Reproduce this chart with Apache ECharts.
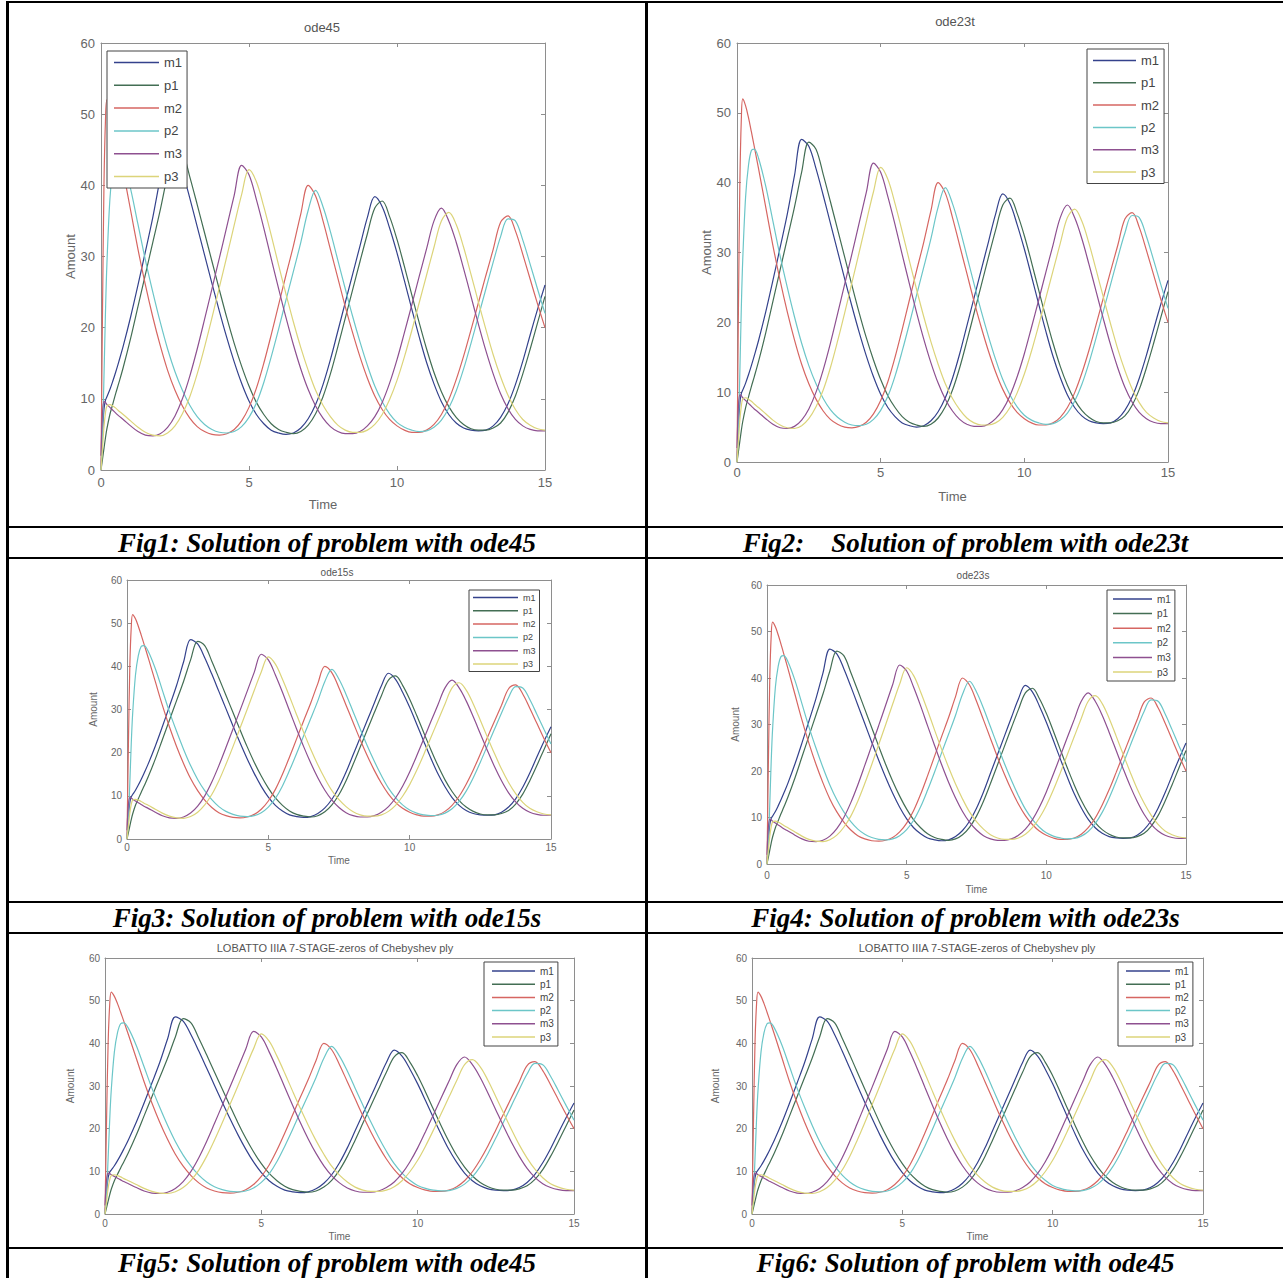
<!DOCTYPE html>
<html>
<head>
<meta charset="utf-8">
<script src="https://cdn.jsdelivr.net/npm/echarts@6/dist/echarts.min.js"></script>
<style>
  html, body { margin: 0; padding: 0; background: #fff; }
  #wrap { position: relative; width: 1283px; height: 1278px; overflow: hidden; }
  #chart { position: absolute; left: 0; top: 0; width: 1283px; height: 1278px; }
  .ln { position: absolute; background: #000; z-index: 5; }
  .cap { position: absolute; z-index: 6; font-family: "Liberation Serif", "Times New Roman", serif;
         font-weight: bold; font-style: italic; font-size: 27px; color: #000; white-space: pre;
         text-align: center; line-height: 30px; height: 30px; }
  .cap.last { line-height: 27px; height: 27px; }
</style>
</head>
<body>
<div id="wrap">
  <div id="chart"></div>
  <div class="ln" style="left:7px;top:1px;width:1276px;height:2px;"></div>
  <div class="ln" style="left:6px;top:1px;width:3px;height:1277px;"></div>
  <div class="ln" style="left:645px;top:1px;width:3px;height:1277px;"></div>
  <div class="ln" style="left:7px;top:526px;width:1276px;height:2px;"></div>
  <div class="ln" style="left:7px;top:557px;width:1276px;height:2px;"></div>
  <div class="ln" style="left:7px;top:901px;width:1276px;height:2px;"></div>
  <div class="ln" style="left:7px;top:932px;width:1276px;height:2px;"></div>
  <div class="ln" style="left:7px;top:1247px;width:1276px;height:2px;"></div>
  <div class="cap" style="left:9px;width:636px;top:528px;">Fig1: Solution of problem with ode45</div>
  <div class="cap" style="left:648px;width:635px;top:528px;">Fig2:    Solution of problem with ode23t</div>
  <div class="cap" style="left:9px;width:636px;top:903px;">Fig3: Solution of problem with ode15s</div>
  <div class="cap" style="left:648px;width:635px;top:903px;">Fig4: Solution of problem with ode23s</div>
  <div class="cap last" style="left:9px;width:636px;top:1250px;">Fig5: Solution of problem with ode45</div>
  <div class="cap last" style="left:648px;width:635px;top:1250px;">Fig6: Solution of problem with ode45</div>
</div>
<script>
// ---- data ----
const timePoints = [0,0.05,0.1,0.15,0.2,0.3,0.4,0.5,0.6,0.75,
  1,1.25,1.5,1.75, 2,2.25,2.5,2.75, 3,3.25,3.5,3.75, 4,4.25,4.5,4.75, 5,5.25,5.5,5.75,
  6,6.25,6.5,6.75, 7,7.25,7.5,7.75, 8,8.25,8.5,8.75, 9,9.25,9.5,9.75, 10,10.25,10.5,10.75,
  11,11.25,11.5,11.75, 12,12.25,12.5,12.75, 13,13.25,13.5,13.75, 14,14.25,14.5,14.75, 15];

const m1 = [0,5,8.5,9.8,10.3,11.3,12.5,13.8,15.2,17.4,
  21.5,26,30.7,35.5, 41,46.2,45.2,42, 38.2,34.2,30.2,26.2, 22.3,18.6,15.2,12.2,
  9.7,7.8,6.5,5.6, 5.2,5.0,5.2,5.9, 7.2,9.2,12,15.5, 19.5,23.5,27.5,31.5,
  35.5,38.4,37,34, 30.5,26.6,22.6,18.7, 15.1,12.1,9.6,7.8, 6.6,5.9,5.6,5.5,
  5.6,6.2,7.4,9.3, 12,15.3,19,22.6, 26];

const p1 = [0,1.5,3,4.5,5.8,7.8,9.3,10.8,12.2,14.4,
  18.5,23,27.5,32, 36.5,41.5,45.8,44.8, 41.2,37.3,33.3,29.3, 25.3,21.4,17.8,14.6,
  11.8,9.5,7.8,6.5, 5.7,5.3,5.1,5.4, 6.3,7.9,10.3,13.5, 17.3,21.3,25.3,29.3,
  33.2,36.8,37.8,35.6, 32.4,28.6,24.6,20.7, 17,13.7,11,8.9, 7.4,6.4,5.8,5.6,
  5.6,5.9,6.6,8.1, 10.4,13.5,17,20.7, 24.4];

const m2 = [0,22,40,49,52,51,49.3,47.3,45.2,42,
  36.5,31,26,21.5, 17.5,14,11.2,9, 7.3,6.1,5.4,5.0, 4.9,5.1,5.7,6.9,
  8.8,11.5,15,19, 23.2,27.4,31.5,36, 40,38.5,35,31, 27,23,19.3,15.9,
  12.9,10.4,8.5,7.1, 6.2,5.6,5.3,5.3, 5.6,6.4,7.8,9.9, 12.7,16,19.7,23.5,
  27.3,31,34.8,35.7, 33.6,30.3,26.8,23.3, 20];

const p2 = [0,5,13,22,29,38,42.5,44.6,44.8,43.5,
  39.5,34.5,29.5,25, 20.8,17,13.8,11.2, 9.1,7.5,6.4,5.7, 5.3,5.2,5.4,6.1,
  7.4,9.4,12.3,15.9, 19.8,23.9,27.9,32, 36.5,39.3,37,33.5, 29.5,25.5,21.6,18,
  14.7,11.8,9.6,7.9, 6.7,6.0,5.6,5.4, 5.5,6.0,7.0,8.7, 11.1,14.2,17.8,21.6,
  25.4,29.2,32.8,35.3, 35,32.3,28.9,25.4, 22];

const m3 = [2,8,9.6,9.5,9.2,8.8,8.4,8.0,7.6,7.1,
  6.2,5.4,4.9,4.8, 5.1,6.0,7.6,10, 13.2,17,21.2,25.5, 29.8,34.2,38.6,42.8,
  41.5,38,34,29.7, 25.5,21.4,17.6,14.2, 11.3,9.0,7.3,6.1, 5.4,5.1,5.1,5.4,
  6.2,7.5,9.5,12.2, 15.5,19.3,23.2,27.2, 31.1,35,36.8,35, 32,28.3,24.4,20.5,
  16.8,13.5,10.7,8.6, 7.1,6.2,5.7,5.5, 5.5];

const p3 = [0,3,6,8,9,9.2,9.0,8.7,8.3,7.8,
  6.9,6.0,5.3,4.9, 4.8,5.2,6.2,7.9, 10.3,13.5,17.3,21.4, 25.7,30,34.4,38.7,
  42.2,40.5,37,33, 28.8,24.7,20.8,17.2, 14,11.2,9.1,7.5, 6.3,5.6,5.3,5.3,
  5.6,6.4,7.8,9.9, 12.6,15.9,19.6,23.5, 27.4,31.3,35,36.2, 34.5,31.3,27.5,23.6,
  19.8,16.2,13.1,10.5, 8.5,7.1,6.3,5.8, 5.6];

const seriesNames = ['m1','p1','m2','p2','m3','p3'];
const seriesValues = [m1,p1,m2,p2,m3,p3];
const panelTitles = ['ode45','ode23t','ode15s','ode23s',
  'LOBATTO IIIA 7-STAGE-zeros of Chebyshev ply','LOBATTO IIIA 7-STAGE-zeros of Chebyshev ply'];
const xTicks = [0,5,10,15];
const yTicks = [0,10,20,30,40,50,60];

// ---- styling / layout ----
const colors = ['#34428c','#436e54','#d66662','#6cc6c8','#8e5090','#dcd47a'];
const FONT = '"Liberation Sans", Arial, sans-serif';
const panels = [
  {grid:{left:101,top:43,width:444,height:427}, fs:13, title:{x:322,y:27,fs:13},
   xl:{m:6,gap:28}, yl:{m:6,gap:23},
   leg:{left:107,top:51,iw:45,gap:9.8,pad:[5,5,5,7],fs:13}},
  {grid:{left:737,top:43,width:431,height:419}, fs:13, title:{x:955,y:21,fs:13},
   xl:{m:4,gap:28}, yl:{m:6,gap:24},
   leg:{left:1087,top:49,iw:43,gap:9.3,pad:[5,5,5,6],fs:13}},
  {grid:{left:127,top:580,width:424,height:259}, fs:10, title:{x:337,y:572,fs:10},
   xl:{m:3,gap:16}, yl:{m:5,gap:29},
   leg:{left:469,top:590,iw:45,gap:4.3,pad:[3,4,3,4],fs:9}},
  {grid:{left:767,top:585,width:419,height:279}, fs:10, title:{x:973,y:575,fs:10},
   xl:{m:6,gap:20}, yl:{m:5,gap:27},
   leg:{left:1107,top:590,iw:39,gap:4.6,pad:[4,4,4,6],fs:10}},
  {grid:{left:105,top:958,width:469,height:256}, fs:10, title:{x:335,y:948,fs:11},
   xl:{m:4,gap:17}, yl:{m:5,gap:30},
   leg:{left:484,top:962,iw:43,gap:3.2,pad:[4,4,4,8],fs:10}},
  {grid:{left:752,top:958,width:451,height:256}, fs:10, title:{x:977,y:948,fs:11},
   xl:{m:4,gap:17}, yl:{m:5,gap:32},
   leg:{left:1118,top:962,iw:44,gap:3.2,pad:[4,4,4,8],fs:10}}
];

const axisGray = '#8e8e8e';
const labelGray = '#666';

const grid = [], xAxis = [], yAxis = [], series = [], legend = [], graphic = [];
panels.forEach((p, i) => {
  grid.push(Object.assign({containLabel:false}, p.grid));
  const commonX = {gridIndex:i, type:'value', min:xTicks[0], max:xTicks[xTicks.length-1],
    interval:xTicks[1]-xTicks[0], splitLine:{show:false},
    axisLine:{show:true, onZero:false, lineStyle:{color:axisGray, width:1}},
    axisTick:{show:true, inside:true, length:4, lineStyle:{color:axisGray}}};
  const commonY = {gridIndex:i, type:'value', min:yTicks[0], max:yTicks[yTicks.length-1],
    interval:yTicks[1]-yTicks[0], splitLine:{show:false},
    axisLine:{show:true, onZero:false, lineStyle:{color:axisGray, width:1}},
    axisTick:{show:true, inside:true, length:4, lineStyle:{color:axisGray}}};
  xAxis.push(Object.assign({}, commonX, {position:'bottom',
    axisLabel:{show:true, margin:p.xl.m, color:labelGray, fontSize:p.fs, fontFamily:FONT},
    name:'Time', nameLocation:'middle', nameGap:p.xl.gap,
    nameTextStyle:{color:labelGray, fontSize:p.fs, fontFamily:FONT}}));
  xAxis.push(Object.assign({}, commonX, {position:'top', axisLabel:{show:false}}));
  yAxis.push(Object.assign({}, commonY, {position:'left',
    axisLabel:{show:true, margin:p.yl.m, color:labelGray, fontSize:p.fs, fontFamily:FONT},
    name:'Amount', nameLocation:'middle', nameGap:p.yl.gap,
    nameTextStyle:{color:labelGray, fontSize:p.fs, fontFamily:FONT}}));
  yAxis.push(Object.assign({}, commonY, {position:'right', axisLabel:{show:false}}));
  seriesNames.forEach((name, k) => {
    series.push({
      name, type:'line', xAxisIndex:2*i, yAxisIndex:2*i,
      data: timePoints.map((t, j) => [t, seriesValues[k][j]]),
      showSymbol:false, symbol:'none', smooth:0.35,
      lineStyle:{color:colors[k], width:1.2}, itemStyle:{color:colors[k]},
      animation:false, z:2
    });
  });
  legend.push({
    orient:'vertical', left:p.leg.left, top:p.leg.top,
    icon:'rect', itemWidth:p.leg.iw, itemHeight:1.5, itemGap:p.leg.gap,
    padding:p.leg.pad, backgroundColor:'#fff', borderColor:'#444', borderWidth:1,
    data: seriesNames, selectedMode:false, z:10,
    textStyle:{color:'#444', fontSize:p.leg.fs, fontFamily:FONT}
  });
  graphic.push({type:'text', x:p.title.x, y:p.title.y, z:20,
    style:{text:panelTitles[i], fill:'#555', font:p.title.fs + 'px ' + FONT,
      textAlign:'center', textVerticalAlign:'middle', align:'center', verticalAlign:'middle'}});
});

const chart = echarts.init(document.getElementById('chart'), null, {renderer:'svg'});
chart.setOption({
  animation:false, backgroundColor:'#fff',
  grid, xAxis, yAxis, series, legend, graphic
});
</script>
</body>
</html>
